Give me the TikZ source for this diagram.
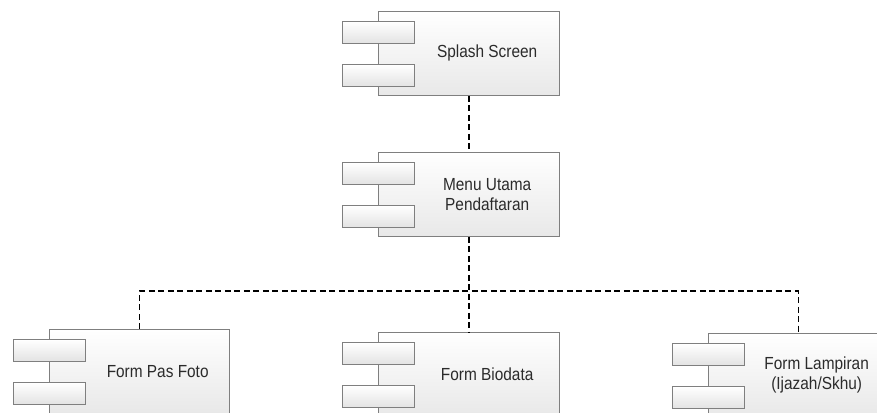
\documentclass[tikz,border=0pt]{standalone}
\usepackage{fontspec}
\setmainfont{Liberation Sans}[FakeStretch=0.88]
\definecolor{edgegray}{HTML}{7F7F7F}
\definecolor{txtgray}{HTML}{2B2B2B}
\usetikzlibrary{calc}
\tikzset{
  compbox/.style={draw=edgegray, line width=0.9pt, top color=white, bottom color=black!9, inner sep=0pt, anchor=north west},
  portbox/.style={draw=edgegray, line width=0.9pt, top color=white, bottom color=black!11, inner sep=0pt, minimum width=72pt, minimum height=21.5pt},
  comptext/.style={text=txtgray, font=\fontsize{17.5pt}{20pt}\selectfont, align=center, inner sep=0pt},
  dep/.style={draw=black, line width=1.1pt, dash pattern=on 6pt off 3.5pt}
}
% #1 name, #2 left, #3 top, #4 width, #5 text
\newcommand\mycomp[5]{%
  \node[compbox, minimum width=#4pt, minimum height=84pt] (#1) at (#2,#3) {};
  \node[portbox] (#1p1) at ([yshift=-21.5pt]#1.north west) {};
  \node[portbox] (#1p2) at ([yshift=-64.5pt]#1.north west) {};
  \node[comptext] (#1t) at ($(#1p1.east|-#1.center)!0.5!(#1.east)$) {#5};
}
\begin{document}
\begin{tikzpicture}[x=1pt,y=-1pt]
\clip (0,0) rectangle (877,412);
\useasboundingbox (0,0) rectangle (877,412);
\fill[white] (0,0) rectangle (877,412);
\mycomp{splash}{378}{11}{181}{Splash Screen}
\mycomp{menu}{378}{152}{181}{Menu Utama\\Pendaftaran}
\mycomp{pas}{49}{329}{180}{Form Pas Foto}
\mycomp{bio}{378}{332}{181}{Form Biodata}
\mycomp{lamp}{708}{333}{180}{Form Lampiran\\(Ijazah/Skhu)}
\coordinate (j) at (468.5,291);
\draw[dep] (splash.south) -- (menu.north);
\draw[dep] (menu.south) -- (bio.north);
\draw[dep] (pas.north) |- (j) -| (lamp.north);
\end{tikzpicture}
\end{document}
